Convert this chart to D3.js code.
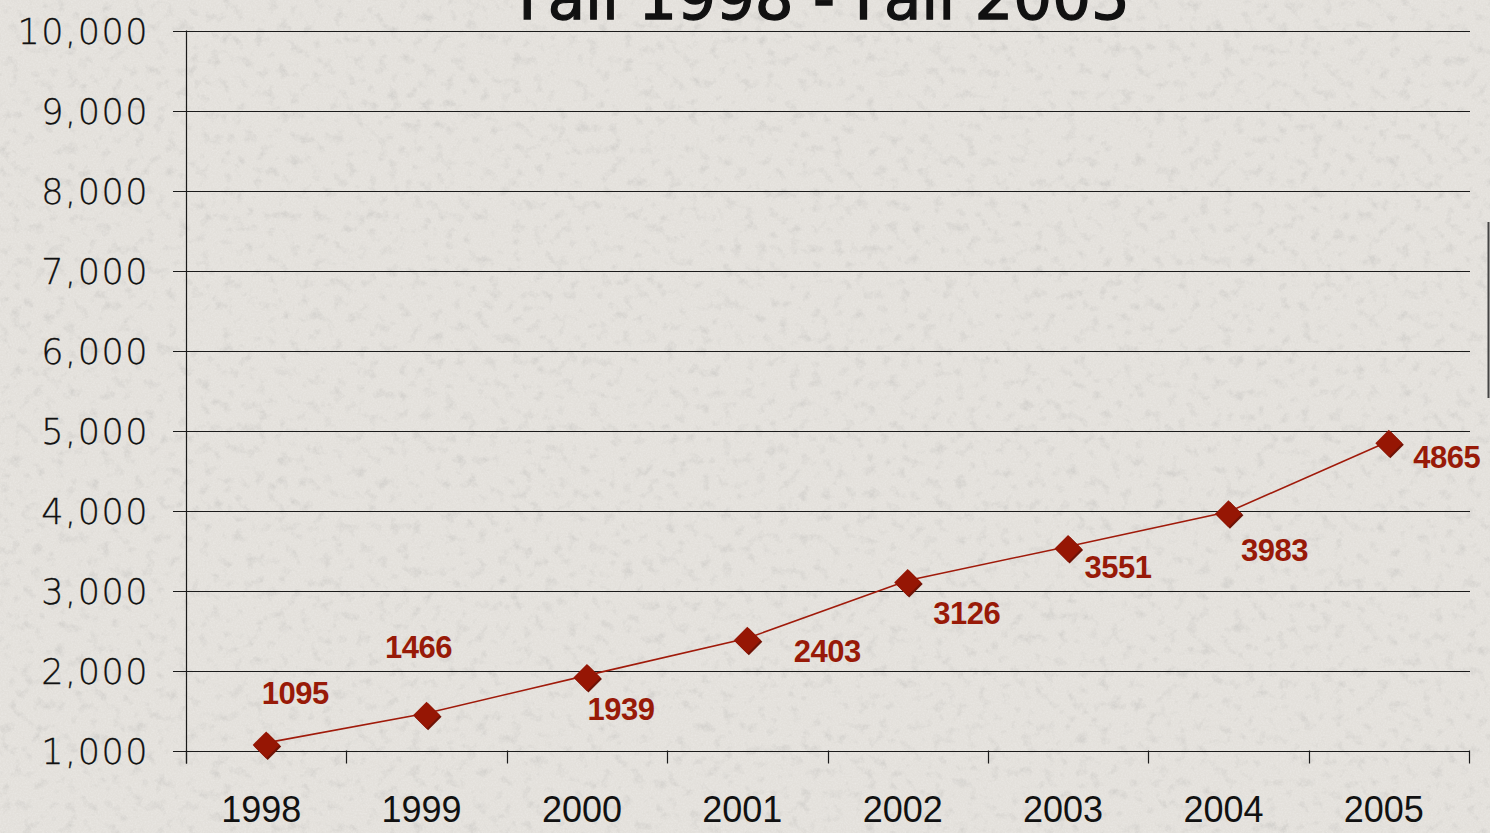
<!DOCTYPE html>
<html>
<head>
<meta charset="utf-8">
<script src="https://cdn.jsdelivr.net/npm/d3@7"></script>
<style>
  html, body { margin: 0; padding: 0; background: #e3e0db; overflow: hidden; }
  svg { display: block; }
</style>
</head>
<body>
<svg id="chart" width="1490" height="833"></svg>
<script>
// ---- data ----
const years = ["1998", "1999", "2000", "2001", "2002", "2003", "2004", "2005"];
const enrollment = [1095, 1466, 1939, 2403, 3126, 3551, 3983, 4865];
const yTicks = [1000, 2000, 3000, 4000, 5000, 6000, 7000, 8000, 9000, 10000];
const titleText = "Fall 1998 - Fall 2005";
// label placement offsets relative to each point (dx, dy) in px
const labelDx = [29, -8, 34, 80, 59, 50, 46, 58];
const labelDy = [-39, -55, 45, 24, 44, 32, 49, 27];

const W = 1490, H = 833;
const margin = { left: 186, right: 21, top: 30, bottom: 83 };
const svg = d3.select("#chart");

// ---- background texture ----
const defs = svg.append("defs");
const f = defs.append("filter").attr("id", "speckle").attr("x", 0).attr("y", 0)
  .attr("width", "100%").attr("height", "100%");
f.append("feTurbulence").attr("type", "fractalNoise").attr("baseFrequency", "0.09")
  .attr("numOctaves", 3).attr("seed", 7).attr("result", "noise");
f.append("feColorMatrix").attr("in", "noise").attr("type", "matrix")
  .attr("values", "0 0 0 0 0.55  0 0 0 0 0.54  0 0 0 0 0.52  -3.2 0 0 0 1.45")
  .attr("result", "spots");
f.append("feComposite").attr("in", "spots").attr("in2", "SourceGraphic").attr("operator", "over");

const f2 = defs.append("filter").attr("id", "grain").attr("x", 0).attr("y", 0)
  .attr("width", "100%").attr("height", "100%");
f2.append("feTurbulence").attr("type", "fractalNoise").attr("baseFrequency", "0.6")
  .attr("numOctaves", 2).attr("seed", 3).attr("result", "n");
f2.append("feColorMatrix").attr("in", "n").attr("type", "matrix")
  .attr("values", "0 0 0 0 1  0 0 0 0 1  0 0 0 0 1  0 0 0 -1.6 1.0");

svg.append("rect").attr("width", W).attr("height", H).attr("fill", "#e3e0db");
svg.append("rect").attr("width", W).attr("height", H).attr("fill", "#e3e0db")
  .attr("filter", "url(#speckle)").attr("opacity", 0.45);
svg.append("rect").attr("width", W).attr("height", H).attr("fill", "#fff")
  .attr("filter", "url(#grain)").attr("opacity", 0.25);

// ---- scales ----
const x = d3.scaleBand().domain(years).range([margin.left, W - margin.right]);
const y = d3.scaleLinear().domain([1000, 10000]).range([750.5, 30.5]);

// ---- title ----
svg.append("text")
  .attr("x", 824).attr("y", 19)
  .attr("text-anchor", "middle")
  .attr("font-family", "'DejaVu Sans', sans-serif")
  .attr("font-size", 61)
  .attr("fill", "#111")
  .attr("stroke", "#111")
  .attr("stroke-width", 1.3)
  .text(titleText);

// ---- gridlines ----
svg.append("g").selectAll("line").data(yTicks).join("line")
  .attr("x1", margin.left - 13).attr("x2", W - margin.right + 1)
  .attr("y1", d => Math.round(y(d)) + 0.5).attr("y2", d => Math.round(y(d)) + 0.5)
  .attr("stroke", "#1a1a1a").attr("stroke-width", 1.2);

// ---- y axis ----
const yAxis = d3.axisLeft(y).tickValues(yTicks).tickFormat(d3.format(",")).tickSize(0).tickPadding(0);
const gy = svg.append("g").attr("transform", `translate(${margin.left},0)`).call(yAxis);
gy.select(".domain").remove();
gy.selectAll("text")
  .attr("x", -37)
  .attr("dy", "0.36em")
  .attr("font-family", "'DejaVu Sans', sans-serif")
  .attr("font-size", 35)
  .attr("font-weight", 200)
  .attr("letter-spacing", 1.5)
  .attr("fill", "#111")
  .attr("stroke", "#111")
  .attr("stroke-width", 0.3);
svg.append("line")
  .attr("x1", margin.left + 0.5).attr("x2", margin.left + 0.5)
  .attr("y1", y(10000)).attr("y2", y(1000) + 13)
  .attr("stroke", "#1a1a1a").attr("stroke-width", 1.2);

// ---- x axis ----
const xAxis = d3.axisBottom(x).tickSize(0).tickPadding(0);
const gx = svg.append("g").attr("transform", `translate(0,${y(1000)})`).call(xAxis);
gx.select(".domain").remove();
gx.selectAll("text")
  .attr("dx", -5)
  .attr("y", 71)
  .attr("dy", 0)
  .attr("font-family", "'Liberation Sans', Arial, sans-serif")
  .attr("font-size", 36)
  .attr("fill", "#111");
const boundaries = years.map(d => x(d)).concat([x(years[years.length - 1]) + x.bandwidth()]);
svg.append("g").selectAll("line").data(boundaries).join("line")
  .attr("x1", d => Math.round(d) + 0.5).attr("x2", d => Math.round(d) + 0.5)
  .attr("y1", y(1000)).attr("y2", y(1000) + 13)
  .attr("stroke", "#1a1a1a").attr("stroke-width", 1.2);

// ---- series ----
const pts = years.map((yr, i) => ({ yr, v: enrollment[i], i }));
const cx = d => x(d.yr) + x.bandwidth() / 2;
const line = d3.line().x(cx).y(d => y(d.v));
svg.append("path").datum(pts)
  .attr("d", line).attr("fill", "none")
  .attr("stroke", "#a01a0a").attr("stroke-width", 1.6);

const sq = 13.5;
const diamondPath = `M0,${-sq}L${sq},0L0,${sq}L${-sq},0Z`;
svg.append("g").selectAll("path.sh").data(pts).join("path")
  .attr("class", "sh")
  .attr("d", diamondPath)
  .attr("transform", d => `translate(${cx(d) + 1.5},${y(d.v) + 3.5})`)
  .attr("fill", "#6e1206");
svg.append("g").selectAll("path.mk").data(pts).join("path")
  .attr("class", "mk")
  .attr("d", diamondPath)
  .attr("transform", d => `translate(${cx(d)},${y(d.v) + 2})`)
  .attr("fill", "#961604");

// ---- data labels ----
svg.append("g").selectAll("text").data(pts).join("text")
  .attr("x", d => cx(d) + labelDx[d.i])
  .attr("y", d => y(d.v) + labelDy[d.i])
  .attr("text-anchor", "middle")
  .attr("font-family", "'Liberation Sans', Arial, sans-serif")
  .attr("font-weight", "bold")
  .attr("font-size", 31)
  .attr("letter-spacing", -0.5)
  .attr("fill", "#981a08")
  .text(d => d.v);

// ---- edge artifact line at right ----
svg.append("line")
  .attr("x1", 1488.5).attr("x2", 1488.5).attr("y1", 222).attr("y2", 398)
  .attr("stroke", "#444").attr("stroke-width", 2);
</script>
</body>
</html>
